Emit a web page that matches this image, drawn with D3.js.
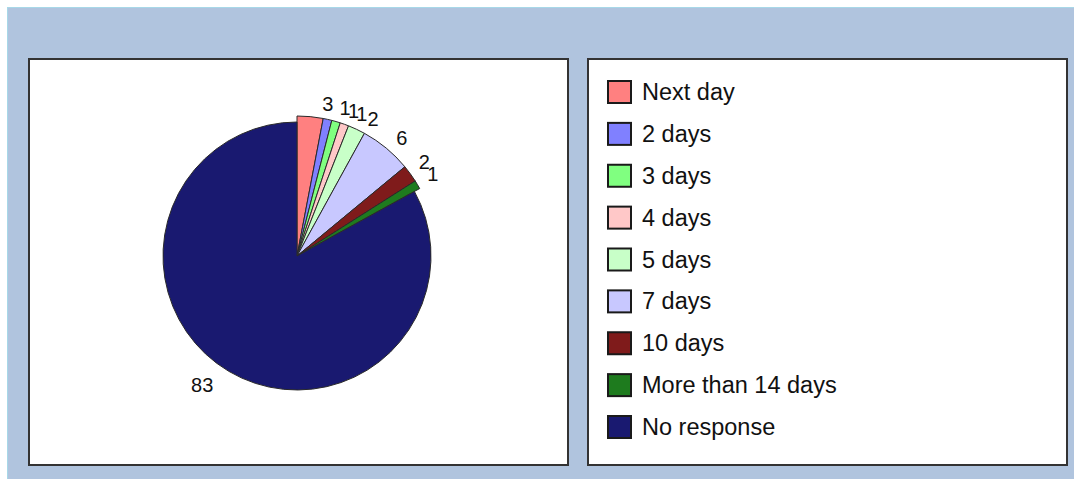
<!DOCTYPE html>
<html>
<head>
<meta charset="utf-8">
<script src="https://cdn.jsdelivr.net/npm/d3@7"></script>
<style>
  body { margin: 0; background: #fff; }
  svg { display: block; font-family: "Liberation Sans", Arial, sans-serif; }
</style>
</head>
<body>
<svg width="1074" height="479"></svg>
<script>
// chart data
var categories = ["Next day", "2 days", "3 days", "4 days", "5 days", "7 days", "10 days", "More than 14 days", "No response"];
var values = [3, 1, 1, 1, 2, 6, 2, 1, 83];
var colors = ["#ff8080", "#8080ff", "#80ff80", "#ffc8c8", "#c8ffc8", "#c8c8ff", "#7f1b1b", "#1e7b1e", "#191970"];

var svg = d3.select("svg");

// frame
svg.append("rect").attr("x", 7).attr("y", 7).attr("width", 1067).attr("height", 472).attr("fill", "#b0c4de");
svg.append("line").attr("x1", 7).attr("x2", 1074).attr("y1", 7.5).attr("y2", 7.5).attr("stroke", "#a8d8e8");
svg.append("line").attr("x1", 7.5).attr("x2", 7.5).attr("y1", 7).attr("y2", 479).attr("stroke", "#a8d8e8");

svg.append("rect").attr("x", 29).attr("y", 59).attr("width", 539).attr("height", 406)
    .attr("fill", "#fff").attr("stroke", "#333").attr("stroke-width", 2);
svg.append("rect").attr("x", 588).attr("y", 59).attr("width", 479).attr("height", 406)
    .attr("fill", "#fff").attr("stroke", "#333").attr("stroke-width", 2);

// pie
var cx = 297, cy = 256;
var pie = d3.pie().sort(null).value(function(d) { return d; });
var arcs = pie(values);

var g = svg.append("g").attr("transform", "translate(" + cx + "," + cy + ")");

function radius(d) { return d.data > 50 ? 134 : 140; }

g.selectAll("path")
  .data(arcs)
  .enter()
  .append("path")
  .attr("d", function(d) { return d3.arc().innerRadius(0).outerRadius(radius(d))(d); })
  .attr("fill", function(d, i) { return colors[i]; })
  .attr("stroke", "#2a2a2a")
  .attr("stroke-width", 1);

var labelArc = d3.arc().innerRadius(154).outerRadius(154);
var shift = [0.07, 0.06, 0.055, 0.05, 0.035, 0.01, -0.03, -0.03, 0.04];

g.selectAll("text")
  .data(arcs)
  .enter()
  .append("text")
  .attr("transform", function(d, i) {
    var a = (d.startAngle + d.endAngle) / 2 + shift[i];
    var p = labelArc.centroid({startAngle: a, endAngle: a});
    return "translate(" + p[0] + "," + p[1] + ")";
  })
  .attr("text-anchor", function(d, i) {
    var a = (d.startAngle + d.endAngle) / 2;
    return a < Math.PI ? "start" : "end";
  })
  .attr("dy", "0.35em")
  .style("font-size", "20px")
  .attr("fill", "#111")
  .text(function(d) { return d.data; });

// legend
var legend = svg.append("g");
var rowY = d3.scalePoint().domain(categories).range([92, 427]);

var row = legend.selectAll("g")
  .data(categories)
  .enter()
  .append("g")
  .attr("transform", function(d) { return "translate(607," + rowY(d) + ")"; });

row.append("rect")
  .attr("x", 1).attr("y", -11)
  .attr("width", 23).attr("height", 22)
  .attr("fill", function(d, i) { return colors[i]; })
  .attr("stroke", "#1a1a1a")
  .attr("stroke-width", 2);

row.append("text")
  .attr("x", 35)
  .attr("y", 8)
  .style("font-size", "23.5px")
  .attr("fill", "#111")
  .text(function(d) { return d; });
</script>
</body>
</html>
